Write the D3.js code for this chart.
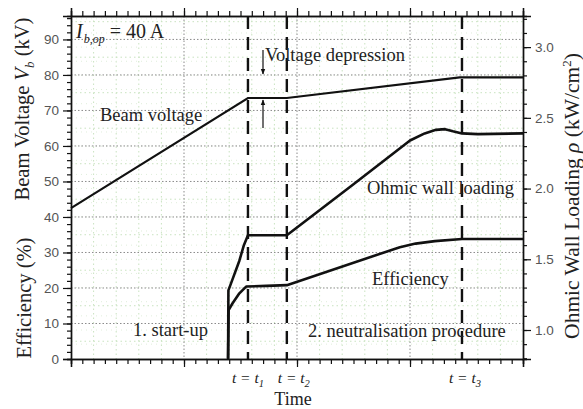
<!DOCTYPE html>
<html>
<head>
<meta charset="utf-8">
<script src="https://cdn.jsdelivr.net/npm/d3@7"></script>
<style>
  body { margin: 0; background: #fff; }
  svg text { font-family: "Liberation Serif", "Times New Roman", serif; fill: #222; }
  .tick text { font-family: "Liberation Sans", Arial, sans-serif; fill: #555; }
</style>
</head>
<body>
<svg id="chart" width="583" height="409"></svg>
<script>
// Time axis (arbitrary units), left axis (kV and %), right axis (kW/cm^2)
const timeDomain = [0, 40];
const leftDomain = [0, 96.6];
const rightDomain = [0.795, 3.22];
const leftTicks = [0, 10, 20, 30, 40, 50, 60, 70, 80, 90];
const rightTicks = [1.0, 1.5, 2.0, 2.5, 3.0];

// Beam voltage V_b (kV) vs time
const beamVoltage = [
  [0, 42.5], [15.66, 73.5], [19.1, 73.5], [34.4, 79.3], [40, 79.3]
];
// Ohmic wall loading rho (kW/cm^2) vs time
const ohmicLoading = [
  [13.9, 0.8], [13.93, 1.28], [14.3, 1.36], [14.9, 1.49], [15.3, 1.6], [15.66, 1.67],
  [19.1, 1.67], [25.0, 2.03], [30.0, 2.34], [31.3, 2.39], [32.3, 2.415], [33.1, 2.42],
  [33.8, 2.405], [34.6, 2.39], [36.0, 2.385], [40, 2.39]
];
// Efficiency (%) vs time
const efficiency = [
  [13.9, 0], [13.95, 13.8], [14.3, 15.7], [14.9, 18.5], [15.5, 20.4], [17.3, 20.6],
  [19.1, 20.8], [29.1, 31.5], [30.5, 32.5], [32.2, 33.2], [34.6, 33.8], [40, 33.8]
];
// Phase boundaries
const markers = [
  { t: 15.66, sub: "1" },
  { t: 19.1, sub: "2" },
  { t: 34.6, sub: "3" }
];
const depressionLevels = [80, 73.5];

const svg = d3.select("#chart");
const L = 71, R = 523, T = 16, B = 359;

const x = d3.scaleLinear().domain(timeDomain).range([L, R]);
const yL = d3.scaleLinear().domain(leftDomain).range([B, T]);
const yR = d3.scaleLinear().domain(rightDomain).range([B, T]);

// grid
const grid = svg.append("g");
// minor grid (light green dotted)
d3.range(2, 40, 2).filter(v => v % 10 !== 0).forEach(v => {
  grid.append("line").attr("x1", x(v)).attr("x2", x(v)).attr("y1", T).attr("y2", B)
    .attr("stroke", "#c9e3c0").attr("stroke-width", 1).attr("stroke-dasharray", "1.5,3");
});
d3.range(5, 96, 10).forEach(v => {
  grid.append("line").attr("x1", L).attr("x2", R).attr("y1", yL(v)).attr("y2", yL(v))
    .attr("stroke", "#c9e3c0").attr("stroke-width", 1).attr("stroke-dasharray", "1.5,3");
});
d3.range(0.9, 3.21, 0.1).forEach(v => {
  grid.append("line").attr("x1", L).attr("x2", R).attr("y1", yR(v)).attr("y2", yR(v))
    .attr("stroke", "#e0eedb").attr("stroke-width", 1).attr("stroke-dasharray", "1,4");
});
// major grid (gray dotted)
[10, 20, 30].forEach(v => {
  grid.append("line").attr("x1", x(v)).attr("x2", x(v)).attr("y1", T).attr("y2", B)
    .attr("stroke", "#8a8a8a").attr("stroke-width", 1).attr("stroke-dasharray", "1.5,2");
});
leftTicks.filter(v => v > 0).forEach(v => {
  grid.append("line").attr("x1", L).attr("x2", R).attr("y1", yL(v)).attr("y2", yL(v))
    .attr("stroke", "#8a8a8a").attr("stroke-width", 1).attr("stroke-dasharray", "1.5,2");
});

// axes
function styleAxis(g) {
  g.selectAll(".domain").attr("stroke", "#111").attr("stroke-width", 1.4);
  g.selectAll(".tick line").attr("stroke", "#111").attr("stroke-width", 1.2);
  g.selectAll(".tick text").attr("font-size", 13.5);
}
const majorT = d3.range(0, 41, 10), minorT = d3.range(0, 41, 1);

svg.append("g").attr("transform", `translate(0,${B})`)
  .call(d3.axisBottom(x).tickValues(minorT).tickFormat("").tickSize(5)).call(styleAxis);
svg.append("g").attr("transform", `translate(0,${B})`)
  .call(d3.axisBottom(x).tickValues(majorT).tickFormat("").tickSize(8)).call(styleAxis);
svg.append("g").attr("transform", `translate(0,${T})`)
  .call(d3.axisTop(x).tickValues(minorT).tickFormat("").tickSize(5)).call(styleAxis);
svg.append("g").attr("transform", `translate(0,${T})`)
  .call(d3.axisTop(x).tickValues(majorT).tickFormat("").tickSize(8)).call(styleAxis);

svg.append("g").attr("transform", `translate(${L},0)`)
  .call(d3.axisLeft(yL).tickValues(d3.range(0, 97, 2)).tickFormat("").tickSize(4)).call(styleAxis);
svg.append("g").attr("transform", `translate(${L},0)`)
  .call(d3.axisLeft(yL).tickValues(leftTicks).tickFormat(d3.format("d")).tickSize(8).tickPadding(4)).call(styleAxis);

svg.append("g").attr("transform", `translate(${R},0)`)
  .call(d3.axisRight(yR).tickValues(d3.range(0.8, 3.21, 0.1)).tickFormat("").tickSize(4)).call(styleAxis);
svg.append("g").attr("transform", `translate(${R},0)`)
  .call(d3.axisRight(yR).tickValues(rightTicks).tickFormat(d3.format(".1f")).tickSize(8).tickPadding(4)).call(styleAxis);

// phase boundary dashed lines
markers.forEach(m => {
  svg.append("line").attr("x1", x(m.t)).attr("x2", x(m.t)).attr("y1", T).attr("y2", B)
    .attr("stroke", "#111").attr("stroke-width", 2.4).attr("stroke-dasharray", "13,8");
});

// curves
const lineL = d3.line().x(d => x(d[0])).y(d => yL(d[1]));
const lineR = d3.line().x(d => x(d[0])).y(d => yR(d[1]));
svg.append("path").datum(beamVoltage).attr("d", lineL)
  .attr("fill", "none").attr("stroke", "#111").attr("stroke-width", 2.2);
svg.append("path").datum(ohmicLoading).attr("d", lineR)
  .attr("fill", "none").attr("stroke", "#111").attr("stroke-width", 2.6).attr("stroke-linejoin", "round");
svg.append("path").datum(efficiency).attr("d", lineL)
  .attr("fill", "none").attr("stroke", "#111").attr("stroke-width", 2.6).attr("stroke-linejoin", "round");

// voltage depression arrows
const defs = svg.append("defs");
defs.append("marker").attr("id", "arrow").attr("viewBox", "0 0 10 10")
  .attr("refX", 9).attr("refY", 5).attr("markerWidth", 5).attr("markerHeight", 7)
  .attr("orient", "auto")
  .append("path").attr("d", "M0,1 L10,5 L0,9 Z").attr("fill", "#111");
const ax = 263;
svg.append("line").attr("x1", ax).attr("x2", ax).attr("y1", 50).attr("y2", yL(depressionLevels[0]) - 1)
  .attr("stroke", "#111").attr("stroke-width", 1.2).attr("marker-end", "url(#arrow)");
svg.append("line").attr("x1", ax).attr("x2", ax).attr("y1", 128).attr("y2", yL(depressionLevels[1]) + 2)
  .attr("stroke", "#111").attr("stroke-width", 1.2).attr("marker-end", "url(#arrow)");

// annotations
const fs = 18.5;
function label(txt, tx, ty, size) {
  svg.append("text").attr("x", tx).attr("y", ty).attr("font-size", size || fs).text(txt);
}
label("Voltage depression", 265, 61);
label("Beam voltage", 100, 121);
label("Ohmic wall loading", 367, 194);
label("Efficiency", 372, 285);
label("1. start-up", 133, 336);
label("2. neutralisation procedure", 308, 337);

const cur = svg.append("text").attr("x", 76).attr("y", 38).attr("font-size", 20);
cur.append("tspan").attr("font-style", "italic").text("I");
cur.append("tspan").attr("font-style", "italic").attr("font-size", 12).attr("dy", 5).attr("dx", 1).text("b,op");
cur.append("tspan").attr("dy", -5).text(" = 40 A");

// time markers labels
const offs = [0, 7, 3];
markers.forEach((m, i) => {
  const t = svg.append("text").attr("x", x(m.t) + offs[i]).attr("y", 383)
    .attr("text-anchor", "middle").attr("font-size", 15.5).attr("font-style", "italic");
  t.append("tspan").text("t = t");
  t.append("tspan").attr("font-size", 10.5).attr("dy", 4).text(m.sub);
});

svg.append("text").attr("x", 293).attr("y", 405).attr("text-anchor", "middle")
  .attr("font-size", 18).text("Time");

// axis titles
const lt = svg.append("text").attr("transform", "translate(29,109) rotate(-90)")
  .attr("text-anchor", "middle").attr("font-size", 20.5);
lt.append("tspan").text("Beam Voltage ");
lt.append("tspan").attr("font-style", "italic").text("V");
lt.append("tspan").attr("font-style", "italic").attr("font-size", 13).attr("dy", 5).text("b");
lt.append("tspan").attr("dy", -5).text(" (kV)");

svg.append("text").attr("transform", "translate(31,298) rotate(-90)")
  .attr("text-anchor", "middle").attr("font-size", 20.5).text("Efficiency  (%)");

const rt = svg.append("text").attr("transform", "translate(579,196) rotate(-90)")
  .attr("text-anchor", "middle").attr("font-size", 21.5);
rt.append("tspan").text("Ohmic Wall Loading ");
rt.append("tspan").attr("font-style", "italic").text("ρ");
rt.append("tspan").text(" (kW/cm");
rt.append("tspan").attr("font-size", 13).attr("dy", -8).text("2");
rt.append("tspan").attr("dy", 8).text(")");
</script>
</body>
</html>
